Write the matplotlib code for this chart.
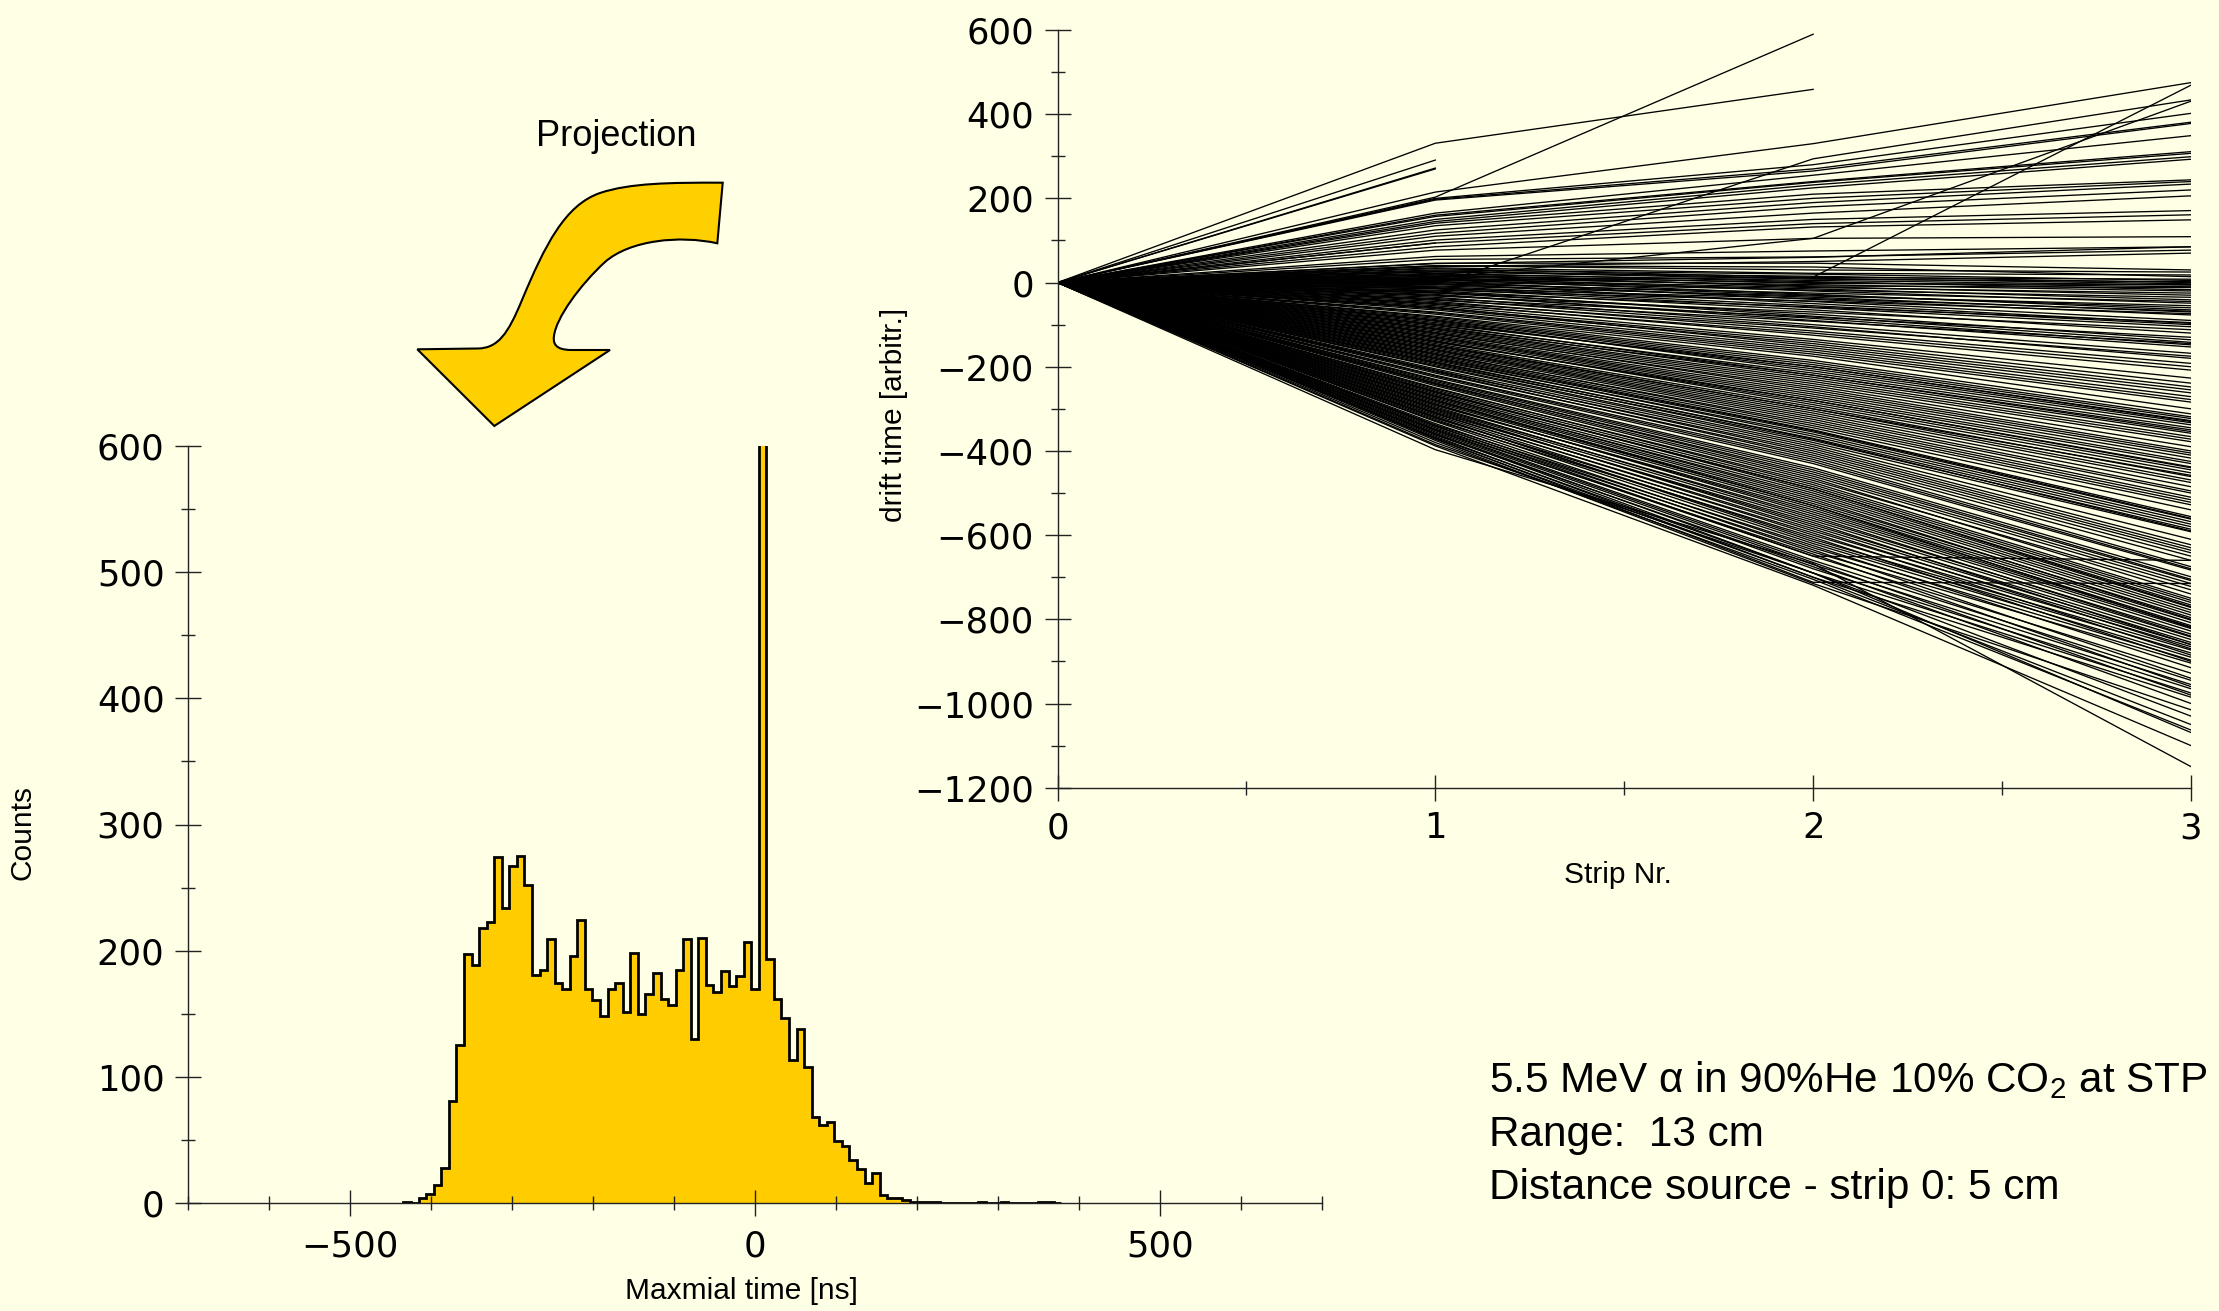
import numpy as np
import matplotlib.pyplot as plt
from matplotlib.path import Path
from matplotlib.patches import PathPatch
from matplotlib.ticker import MultipleLocator

W, H = 2219, 1311
bg = '#FFFFE5'
gold = '#FFCC00'
label_font = 'Liberation Sans'

plt.rcParams['mathtext.fontset'] = 'custom'
plt.rcParams['mathtext.rm'] = label_font

# histogram of the maximal time, bins of 9.33 ns (first bin starts near -434 ns)
counts = [1, 0, 4, 7, 14, 28, 81, 125, 197, 189,
          218, 223, 274, 234, 267, 275, 252, 181, 185, 209,
          174, 170, 196, 224, 170, 161, 148, 170, 174, 151,
          198, 150, 166, 182, 162, 157, 185, 209, 130, 210,
          173, 167, 184, 172, 180, 207, 170, 1000, 193, 162,
          147, 113, 138, 108, 68, 62, 64, 49, 45, 34,
          27, 16, 24, 6, 4, 4, 2, 1, 1, 1,
          1, 0, 0, 0, 0, 0, 1, 0, 0, 1,
          0, 0, 0, 0, 1, 1, 0]
edges = -4.67 + 9.333 * np.arange(-46, 42)

# drift time of each track at strips 1, 2 and 3 (all start at 0 on strip 0)
strip1 = [215, 200, 198, 196, 165, 160, 157, 150, 145, 141, 135, 125, 117, 110, 101,
          94, 85, 77, 62, 55, 46, 40, -5, 10, 5,
          30, 25, 28, 20, 15, 22, 10, 18, 5, 12, 0, 8, -5, 3, -10, -2, -12, -15, -20,
          -25, -22, -30, -28, -35, -40, -45, -50, -55,
          40, 35, 33, 26, 18, 14, 8, 2, -3, -8, -14, -18, -24, -32, -38, -42, -48, -52,
          45, 38,
          -60, -62, -70, -75, -85, -88, -90, -95, -92, -100, -105, -110, -115, -120,
          -125, -128, -135, -140, -138, -145, -150, -160, -165, -170, -168,
          -58, -65, -72, -80, -82, -98, -102, -108, -112, -118, -122, -130, -132, -142,
          -148, -152, -155, -158, -162, -172,
          -175, -180, -185, -182, -190, -195, -192, -200, -205, -210, -208, -215, -220,
          -225, -230, -235, -240, -238, -245, -250, -255, -260, -258, -265, -270, -268,
          -275, -280, -278, -285, -290, -288, -295, -300, -305, -302, -310, -315, -320,
          -318, -325, -330, -335, -340, -345, -350, -355, -358, -360, -365, -370, -375,
          -380, -385, -397,
          -178, -188, -198, -212, -222, -232, -242, -252, -262, -272, -282, -292, -298,
          -308, -312, -322, -328, -338, -342, -348, -352, -362, -368, -372, -388]
strip2 = [330, 280, 270, 265, 255, 240, 238, 232, 225, 210, 200, 190, 180, 165, 150,
          140, 132, 105, 75, 61, 46, 37, 294, 105, 13,
          20, 15, 10, 5, 0, 2, -5, -10, -15, -20, -30, -28, -35, -40, -45, -50, -55, -60,
          -65, -75, -80, -85, -90, -100, -105, -115, -125, -135,
          30, 22, 12, 8, -2, -8, -12, -18, -25, -32, -38, -44, -58, -70, -82, -92, -108,
          -120, 60, 50,
          -140, -145, -160, -170, -190, -195, -200, -205, -210, -220, -225, -230, -240,
          -255, -260, -265, -280, -285, -290, -295, -300, -320, -330, -335, -340,
          -150, -155, -165, -175, -185, -200, -215, -220, -235, -245, -250, -270, -275,
          -280, -300, -305, -310, -315, -325, -345,
          -350, -355, -360, -365, -370, -375, -380, -390, -395, -400, -405, -410, -420,
          -430, -440, -450, -455, -460, -470, -480, -485, -490, -495, -500, -505, -510,
          -520, -525, -530, -535, -545, -550, -560, -565, -575, -580, -590, -600, -610,
          -615, -620, -630, -640, -650, -650, -660, -670, -680, -690, -700, -712, -715,
          -705, -690, -668,
          -352, -372, -385, -415, -425, -445, -465, -475, -490, -515, -530, -540, -555,
          -570, -585, -595, -605, -625, -635, -645, -665, -675, -690, -700, -719]
strip3 = [475, 402, 381, 378, 349, 311, 307, 299, 293, 244, 240, 234, 220, 206, 171,
          161, 149, 109, 85, 77, 30, 14, 434, 431, 469,
          5, 0, -3, -6, -10, -17, -20, -30, -41, -49, -60, -65, -70, -77, -90, -97, -100,
          -105, -120, -136, -142, -148, -153, -168, -180, -192, -208, -227,
          25, 18, 8, 2, -5, -12, -25, -35, -45, -55, -68, -74, -95, -112, -130, -145,
          -175, -200, 85, 70,
          -239, -248, -271, -284, -319, -323, -328, -333, -338, -354, -358, -366, -378,
          -405, -410, -417, -438, -445, -452, -461, -469, -500, -516, -522, -528,
          -255, -262, -278, -300, -312, -330, -345, -350, -372, -390, -400, -425, -430,
          -440, -458, -475, -485, -495, -510, -540,
          -556, -562, -568, -574, -580, -586, -592, -623, -630, -636, -642, -650, -675,
          -683, -699, -708, -715, -722, -730, -755, -760, -766, -772, -778, -784, -790,
          -796, -802, -808, -815, -822, -828, -835, -842, -848, -855, -860, -865, -873,
          -880, -890, -897, -904, -928, -660, -945, -955, -965, -975, -985, -715, -1015,
          -1063, -1069, -1150,
          -560, -590, -610, -660, -680, -705, -740, -750, -770, -800, -820, -818, -840,
          -860, -870, -885, -900, -915, -940, -960, -980, -1000, -1030, -1050, -1100]

# tracks that stop after strip 2 or strip 1
short2_s1 = [331, 203]
short2_s2 = [459, 590]
short1_s1 = [291, 272, 270, 94]

fig = plt.figure(figsize=(W / 100, H / 100), dpi=100, facecolor=bg)


def style_axes(ax):
    ax.set_facecolor('none')
    for s in ['top', 'right']:
        ax.spines[s].set_visible(False)
    for s in ['left', 'bottom']:
        ax.spines[s].set_linewidth(1.0)
        ax.spines[s].set_color('#222222')
    ax.tick_params(which='major', direction='inout', length=18.7, width=1.0,
                   labelsize=25.5, pad=7.5, color='#222222')
    ax.tick_params(which='minor', direction='inout', length=9.4, width=1.0,
                   color='#222222')


# ---- histogram ----
ax_h = fig.add_axes([188 / W, 1 - 1203 / H, 1134 / W, 757 / H])
style_axes(ax_h)
ax_h.stairs(counts, edges, fill=True, color=gold, zorder=1)
ax_h.stairs(counts, edges, color='black', linewidth=2.0, zorder=2)
ax_h.set_xlim(-700, 700)
ax_h.set_ylim(0, 600)
ax_h.xaxis.set_major_locator(MultipleLocator(500))
ax_h.xaxis.set_minor_locator(MultipleLocator(100))
ax_h.yaxis.set_major_locator(MultipleLocator(100))
ax_h.yaxis.set_minor_locator(MultipleLocator(50))
ax_h.tick_params(axis='x', which='major', pad=9.5)
ax_h.set_xlabel('Maxmial time [ns]', fontsize=21.5, family=label_font)
ax_h.xaxis.set_label_coords(0.488, -0.1157)
ax_h.xaxis.label.set_va('center')
ax_h.set_ylabel('Counts', fontsize=21.5, family=label_font)
ax_h.yaxis.set_label_coords(-0.1459, 0.49)
ax_h.yaxis.label.set_va('center')

# ---- drift time vs strip ----
ax_r = fig.add_axes([1057.5 / W, 1 - 787.7 / H, 1133.5 / W, 757.7 / H])
style_axes(ax_r)
strips = [0, 1, 2, 3]
for a, b, c in zip(strip1, strip2, strip3):
    ax_r.plot(strips, [0, a, b, c], color='black', linewidth=0.95)
for a, b in zip(short2_s1, short2_s2):
    ax_r.plot(strips[:3], [0, a, b], color='black', linewidth=0.95)
for a in short1_s1:
    ax_r.plot(strips[:2], [0, a], color='black', linewidth=0.95)
ax_r.set_xlim(0, 3)
ax_r.set_ylim(-1200, 600)
ax_r.xaxis.set_major_locator(MultipleLocator(1))
ax_r.xaxis.set_minor_locator(MultipleLocator(0.5))
ax_r.yaxis.set_major_locator(MultipleLocator(200))
ax_r.yaxis.set_minor_locator(MultipleLocator(100))
ax_r.set_xlabel('Strip Nr.', fontsize=21.5, family=label_font)
ax_r.xaxis.set_label_coords(0.494, -0.1147)
ax_r.xaxis.label.set_va('center')
ax_r.set_ylabel('drift time [arbitr.]', fontsize=21.5, family=label_font)
ax_r.yaxis.set_label_coords(-0.1442, 0.4924)
ax_r.yaxis.label.set_va('center')


# ---- projection arrow ----
def fp(x, y):
    return (x / W, 1 - y / H)


arrow_pts = [
    ((722.7, 182.7), Path.MOVETO),
    ((717.3, 243.3), Path.LINETO),
    ((680, 235), Path.CURVE4), ((630, 240), Path.CURVE4), ((605, 262), Path.CURVE4),
    ((580, 285), Path.CURVE4), ((556, 318), Path.CURVE4), ((554, 336), Path.CURVE4),
    ((552, 348), Path.CURVE4), ((562, 350), Path.CURVE4), ((572, 350), Path.CURVE4),
    ((610, 350), Path.LINETO),
    ((494.3, 426), Path.LINETO),
    ((417.3, 349.3), Path.LINETO),
    ((478, 348.5), Path.LINETO),
    ((498, 348), Path.CURVE4), ((508, 334), Path.CURVE4), ((522, 300), Path.CURVE4),
    ((545, 245), Path.CURVE4), ((565, 205), Path.CURVE4), ((600, 193), Path.CURVE4),
    ((630, 183), Path.CURVE4), ((670, 182.5), Path.CURVE4), ((722.7, 182.7), Path.CURVE4),
    ((722.7, 182.7), Path.CLOSEPOLY),
]
verts = [fp(*p) for p, c in arrow_pts]
codes = [c for p, c in arrow_pts]
fig.add_artist(PathPatch(Path(verts, codes), facecolor='#FFD000', edgecolor='black',
                         linewidth=1.5, transform=fig.transFigure))
fig.text(*fp(616, 146), 'Projection', fontsize=26, family=label_font,
         ha='center', va='baseline')

# ---- annotation ----
fig.text(*fp(1489, 1092), r'5.5 MeV α in 90%He 10% CO$_\mathrm{2}$ at STP',
         fontsize=30.4, family=label_font, ha='left', va='baseline')
fig.text(*fp(1489, 1146), 'Range:  13 cm', fontsize=30.4, family=label_font,
         ha='left', va='baseline')
fig.text(*fp(1489, 1199), 'Distance source - strip 0: 5 cm', fontsize=30.4,
         family=label_font, ha='left', va='baseline')

fig.savefig('out.png', dpi=100, facecolor=bg)
